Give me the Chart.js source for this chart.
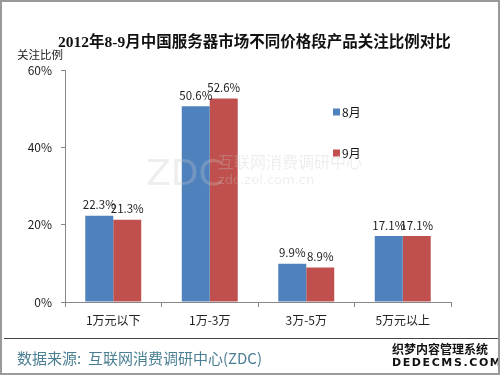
<!DOCTYPE html>
<html>
<head>
<meta charset="utf-8">
<script src="https://cdn.jsdelivr.net/npm/chart.js@4/dist/chart.umd.min.js"></script>
<style>
  html, body { margin: 0; padding: 0; background: #fff; }
  #wrap { position: relative; width: 500px; height: 375px; box-sizing: border-box; border: 2px solid #9a9a9a; overflow: hidden; }
  #chart { position: absolute; left: -2px; top: -2px; }
  .txt { position: absolute; white-space: nowrap; font-family: "Noto Sans CJK SC", "Noto Sans", sans-serif; }
</style>
</head>
<body>
<div id="wrap">
  <canvas id="chart" width="500" height="375"></canvas>
  <div class="txt" style="left:56px;top:27px;font-family:'Liberation Serif','Noto Sans CJK SC',serif;font-weight:bold;font-size:15.5px;color:#111;">2012年8-9月中国服务器市场不同价格段产品关注比例对比</div>
  <div class="txt" style="left:15px;top:44px;font-size:11.5px;color:#222;">关注比例</div>
  <div class="txt" style="left:2px;top:336px;width:494px;height:0;border-top:1.5px solid #444;"></div>
  <div class="txt" style="left:15px;top:345px;font-size:15px;color:#4a7f93;">数据来源:&nbsp;&nbsp;互联网消费调研中心(ZDC)</div>
  <div class="txt" style="left:390px;top:340px;font-size:12px;font-weight:bold;color:#111;line-height:13px;">织梦内容管理系统</div>
  <div class="txt" style="left:390px;top:354px;font-family:'DejaVu Sans',sans-serif;font-size:11px;font-weight:bold;letter-spacing:1.6px;color:#111;line-height:13px;">DEDECMS.COM</div>
</div>
<script>
const categories = ['1万元以下', '1万-3万', '3万-5万', '5万元以上'];
const seriesNames = ['8月', '9月'];
const augValues = [22.3, 50.6, 9.9, 17.1];
const sepValues = [21.3, 52.6, 8.9, 17.1];
const yTicks = [0, 20, 40, 60];
const seriesColors = ['#4f81bd', '#c0504d'];

const FONT = '"Noto Sans CJK SC", "Noto Sans", sans-serif';

// value labels above every bar
const barLabels = {
  id: 'barLabels',
  afterDatasetsDraw(chart) {
    const ctx = chart.ctx;
    ctx.save();
    ctx.font = '11.5px ' + FONT;
    ctx.fillStyle = '#222';
    ctx.textAlign = 'center';
    ctx.textBaseline = 'bottom';
    chart.data.datasets.forEach((ds, i) => {
      chart.getDatasetMeta(i).data.forEach((bar, j) => {
        ctx.fillText(ds.data[j].toFixed(1) + '%', bar.x, bar.y - 5);
      });
    });
    ctx.restore();
  },
};

// legend drawn on the right side, stacked
const sideLegend = {
  id: 'sideLegend',
  afterDraw(chart) {
    const ctx = chart.ctx;
    ctx.save();
    ctx.font = '12px ' + FONT;
    ctx.textBaseline = 'middle';
    const rows = [112, 153];
    seriesNames.forEach((name, i) => {
      ctx.fillStyle = seriesColors[i];
      ctx.fillRect(333, rows[i] - 3.5, 7, 7);
      ctx.fillStyle = '#111';
      ctx.fillText(name, 342, rows[i]);
    });
    ctx.restore();
  },
};

// faint ZDC watermark over the plot
const watermark = {
  id: 'watermark',
  afterDraw(chart) {
    const ctx = chart.ctx;
    ctx.save();
    ctx.fillStyle = 'rgba(200, 200, 200, 0.3)';
    ctx.textBaseline = 'alphabetic';
    ctx.font = '36px "DejaVu Sans", sans-serif';
    ctx.fillText('ZDC', 146, 185);
    ctx.font = '16px ' + FONT;
    ctx.fillText('互联网消费调研中心', 218, 168);
    ctx.font = '13px "DejaVu Sans", sans-serif';
    ctx.fillText('zdc.zol.com.cn', 218, 184);
    ctx.restore();
  },
};

new Chart(document.getElementById('chart'), {
  type: 'bar',
  data: {
    labels: categories,
    datasets: [
      { label: seriesNames[0], data: augValues, backgroundColor: seriesColors[0] },
      { label: seriesNames[1], data: sepValues, backgroundColor: seriesColors[1] },
    ],
  },
  options: {
    responsive: false,
    animation: false,
    layout: { padding: { top: 70, right: 49, bottom: 0, left: 0 } },
    datasets: { bar: { categoryPercentage: 0.58, barPercentage: 1.0 } },
    plugins: { legend: { display: false }, tooltip: { enabled: false }, title: { display: false } },
    scales: {
      x: {
        afterFit(scale) { scale.height = 73; },
        grid: { offset: true, drawOnChartArea: false, drawTicks: true, tickLength: 5, color: '#888' },
        border: { color: '#888', width: 1 },
        ticks: { color: '#222', font: { size: 12, family: FONT }, padding: 6 },
      },
      y: {
        min: 0,
        max: 60,
        afterFit(scale) { scale.width = 65; },
        afterBuildTicks(scale) { scale.ticks = yTicks.map((v) => ({ value: v })); },
        grid: { drawOnChartArea: false, drawTicks: true, tickLength: 4, color: '#888' },
        border: { color: '#888', width: 1 },
        ticks: { color: '#222', font: { size: 12, family: FONT }, padding: 9, callback: (v) => v + '%' },
      },
    },
  },
  plugins: [barLabels, sideLegend, watermark],
});
</script>
</body>
</html>
